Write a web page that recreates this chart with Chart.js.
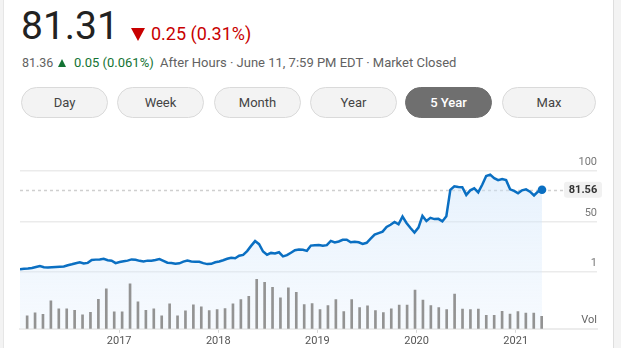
<!DOCTYPE html>
<html>
<head>
<meta charset="utf-8">
<script src="https://cdn.jsdelivr.net/npm/chart.js@4.4.1/dist/chart.umd.min.js"></script>
<style>
  html, body { margin: 0; padding: 0; width: 621px; height: 348px; overflow: hidden; background: #f3f3f3; font-family: Roboto, Arial, sans-serif; }
  .card { position: absolute; left: 3px; top: 0; width: 609px; height: 348px; background: #fff; border-left: 1px solid #e6e6e6; border-right: 1px solid #dedede; }
  .abs { position: absolute; white-space: nowrap; line-height: 1; }
  .price { left: 21px; top: 7px; font-size: 39px; color: #222; }
  .chg { left: 151px; top: 25px; font-size: 18px; color: #c80000; }
  .down { position: absolute; left: 131px; top: 28px; width: 0; height: 0; border-left: 7.5px solid transparent; border-right: 7.5px solid transparent; border-top: 13px solid #c80000; }
  .sub { top: 56px; font-size: 13px; color: #626262; }
  .up { position: absolute; left: 58px; top: 59px; width: 0; height: 0; border-left: 4.5px solid transparent; border-right: 4.5px solid transparent; border-bottom: 8px solid #137333; }
  .btn { position: absolute; top: 87px; width: 85px; height: 29px; line-height: 29px; border: 1px solid #dadada; border-radius: 16px; background: #f3f3f3; color: #444; font-size: 13px; text-align: center; }
  .btn.on { background: #6f6f6f; border-color: #6f6f6f; color: #fff; font-weight: 500; }
  #wrap { position: absolute; left: 0; top: 130px; width: 621px; height: 220px; }
</style>
</head>
<body>
<div class="card"></div>

<div class="abs price">81.31</div>
<div class="down"></div>
<div class="abs chg">0.25 (0.31%)</div>

<div class="abs sub" style="left:22px; font-size:12.5px; top:56.5px">81.36</div>
<div class="up"></div>
<div class="abs sub" style="left:74px; color:#137333">0.05 (0.061%)</div>
<div class="abs sub" style="left:160px">After Hours · June 11, 7:59 PM EDT · Market Closed</div>

<div class="btn" style="left:21px">Day</div>
<div class="btn" style="left:117px">Week</div>
<div class="btn" style="left:214px">Month</div>
<div class="btn" style="left:310px">Year</div>
<div class="btn on" style="left:405px">5 Year</div>
<div class="btn" style="left:502px; width:92px">Max</div>

<div id="wrap"><canvas id="chart" width="621" height="220"></canvas></div>

<script>
// closing prices, sampled evenly from priceStart to priceEnd (years)
const priceStart = 2016.0;
const priceEnd = 2021.265;
const prices = [
  3.6, 4.0, 4.3, 4.8, 5.8, 6.8, 5.6, 5.2, 5.6, 5.8, 6.0, 6.2, 7.5, 8.4, 9.5, 10.4,
  9.2, 9.8, 12.6, 13.0, 13.2, 13.8, 12.4, 12.0, 9.6, 10.6, 11.4, 12.0, 13.2, 12.8, 11.8, 11.2,
  12.0, 11.8, 12.6, 13.6, 11.8, 10.0, 9.6, 8.9, 9.4, 11.0, 12.0, 11.2, 11.0, 10.8, 9.6, 8.6,
  8.9, 10.4, 11.1, 12.4, 13.8, 14.9, 14.4, 16.8, 17.6, 21.4, 26.5, 31.2, 28.2, 21.0, 17.8, 19.6,
  19.0, 20.2, 16.2, 17.4, 19.8, 22.2, 23.0, 22.6, 21.6, 26.8, 27.2, 27.4, 26.6, 27.2, 31.4, 29.8,
  30.8, 32.4, 32.6, 30.0, 30.6, 30.0, 28.4, 29.5, 33.5, 37.5, 39.0, 40.5, 45.0, 47.2, 50.0, 47.7,
  55.2, 49.0, 44.0, 39.5, 44.5, 55.9, 51.0, 54.0, 52.8, 53.0, 50.5, 55.6, 81.4, 85.0, 84.2, 84.0,
  76.5, 81.0, 83.0, 79.0, 86.5, 95.0, 96.4, 93.0, 91.0, 92.0, 91.0, 82.0, 80.5, 78.1, 81.0, 82.0,
  79.7, 76.0, 79.8, 81.56
];
const lastPrice = 81.56;

// volume bars (millions of shares), evenly spaced from volStart to volEnd
const volStart = 2016.072;
const volEnd = 2021.262;
const volumes = [
  520, 640, 580, 1120, 800, 800, 740, 560, 660, 1180, 1600, 680, 680, 1800, 1080, 740,
  800, 520, 1000, 520, 720, 960, 880, 730, 770, 810, 1000, 1170, 1300, 1980, 1860, 1660,
  1240, 1640, 1460, 970, 1010, 770, 930, 1170, 690, 1170, 850, 920, 730, 650, 800, 950,
  950, 1550, 1150, 930, 850, 770, 1390, 790, 770, 790, 540, 540, 700, 590, 690, 630,
  630, 500
];

const years = [2017, 2018, 2019, 2020, 2021];
const priceTicks = [1, 50, 100];

const priceData = prices.map((v, i) => ({
  x: priceStart + i * (priceEnd - priceStart) / (prices.length - 1), y: v
}));
const volData = volumes.map((v, i) => ({
  x: volStart + i * (volEnd - volStart) / (volumes.length - 1), y: v
}));

Chart.defaults.font.family = 'Roboto';

// dashed line at the last price, price tag and "Vol" caption
const lastPricePlugin = {
  id: 'lastPrice',
  beforeDatasetsDraw(chart) {
    const { ctx, chartArea, scales } = chart;
    const y = Math.round(scales.y.getPixelForValue(lastPrice)) + 0.5;
    ctx.save();
    ctx.strokeStyle = '#cfcfcf';
    ctx.lineWidth = 1.5;
    ctx.setLineDash([3, 3]);
    ctx.beginPath();
    ctx.moveTo(chartArea.left, y);
    ctx.lineTo(chartArea.right - 34, y);
    ctx.stroke();
    ctx.restore();
  },
  afterDraw(chart) {
    const { ctx, chartArea, scales } = chart;
    const y = scales.y.getPixelForValue(lastPrice);
    const bx = chartArea.right - 33, bw = 38, bh = 16;
    ctx.save();
    ctx.fillStyle = '#f1f1f1';
    ctx.beginPath();
    ctx.roundRect(bx, y - bh / 2, bw, bh, 3);
    ctx.fill();
    ctx.fillStyle = '#333';
    ctx.font = 'bold 11px Roboto';
    ctx.textAlign = 'center';
    ctx.textBaseline = 'middle';
    ctx.fillText(lastPrice.toFixed(2), bx + bw / 2, y + 0.5);

    ctx.fillStyle = '#666';
    ctx.font = '11px Roboto';
    ctx.textAlign = 'right';
    ctx.fillText('Vol', chartArea.right, chartArea.bottom - 9);
    ctx.restore();
  }
};

new Chart(document.getElementById('chart'), {
  type: 'bar',
  data: {
    datasets: [{
      type: 'line',
      data: priceData,
      xAxisID: 'x',
      yAxisID: 'y',
      order: 2,
      borderColor: '#0a6fc2',
      borderWidth: 2.5,
      tension: 0,
      fill: 'start',
      backgroundColor(context) {
        const { ctx, chartArea } = context.chart;
        if (!chartArea) return 'rgba(0,0,0,0)';
        const g = ctx.createLinearGradient(0, chartArea.top, 0, chartArea.bottom);
        g.addColorStop(0, 'rgba(200,225,250,0.5)');
        g.addColorStop(1, 'rgba(220,235,252,0.25)');
        return g;
      },
      pointRadius: ctx => ctx.dataIndex === prices.length - 1 ? 4.3 : 0,
      pointBackgroundColor: '#0a6fc2',
      pointBorderWidth: 0
    }, {
      type: 'bar',
      data: volData,
      xAxisID: 'x',
      yAxisID: 'yv',
      order: 1,
      backgroundColor: '#939393',
      barThickness: 2
    }]
  },
  options: {
    responsive: false,
    animation: false,
    layout: { padding: { left: 20, right: 24, top: 20, bottom: 0 } },
    plugins: {
      legend: { display: false },
      tooltip: { enabled: false }
    },
    scales: {
      x: {
        type: 'linear',
        offset: false,
        min: 2016.0,
        max: 2021.82,
        afterBuildTicks: s => { s.ticks = years.map(v => ({ value: v })); },
        ticks: {
          callback: v => String(v),
          color: '#555',
          font: { size: 11 },
          padding: 2,
          maxRotation: 0,
          autoSkip: false
        },
        grid: { display: true, offset: false, drawOnChartArea: false, drawTicks: true, tickLength: 4, color: '#d8d8d8' },
        border: { display: true, color: '#ececec', width: 2 }
      },
      y: {
        type: 'linear',
        position: 'right',
        min: -54.9,
        max: 120.6,
        afterBuildTicks: s => { s.ticks = priceTicks.map(v => ({ value: v })); },
        ticks: {
          mirror: true,
          padding: 0,
          labelOffset: -9,
          color: '#777',
          font: { size: 11 },
          callback: v => String(v)
        },
        grid: { color: '#ebebeb', lineWidth: 1.5, drawTicks: false },
        border: { display: false }
      },
      yv: {
        type: 'linear',
        display: false,
        min: 0,
        max: 7160
      }
    }
  },
  plugins: [lastPricePlugin]
});
</script>
</body>
</html>
